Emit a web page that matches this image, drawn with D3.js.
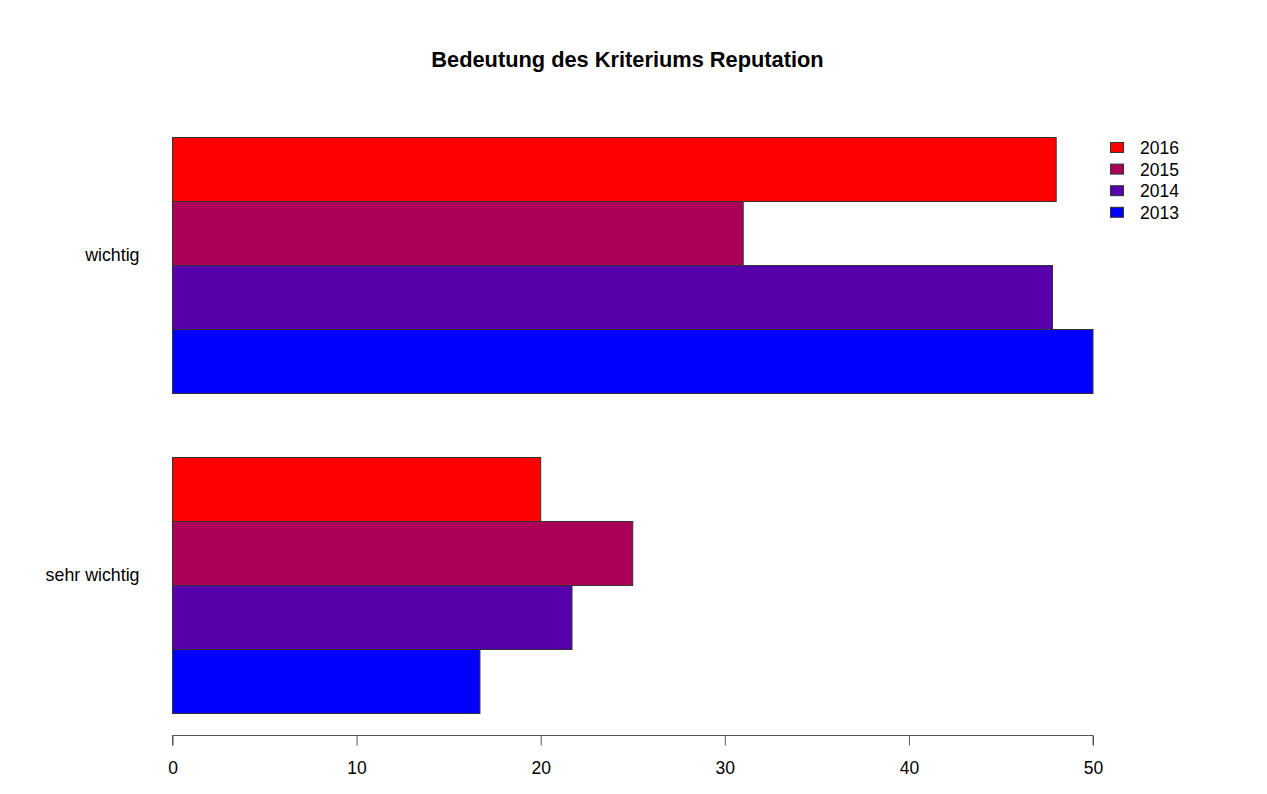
<!DOCTYPE html>
<html>
<head>
<meta charset="utf-8">
<script src="https://cdn.jsdelivr.net/npm/d3@7"></script>
<style>
  html, body { margin: 0; padding: 0; background: #ffffff; }
  svg { display: block; font-family: "Liberation Sans", Arial, Helvetica, sans-serif; }
</style>
</head>
<body>
<svg id="chart" width="1267" height="794"></svg>
<script>
// ---- data ----
const title = "Bedeutung des Kriteriums Reputation";
const categories = ["wichtig", "sehr wichtig"];
const years = ["2016", "2015", "2014", "2013"];
const values2016 = [48, 20];
const values2015 = [31, 25];
const values2014 = [47.8, 21.7];
const values2013 = [50, 16.7];
const yearColors = ["#FF0000", "#AA0055", "#5500AA", "#0000FF"];
const xTicks = [0, 10, 20, 30, 40, 50];

const seriesValues = [values2016, values2015, values2014, values2013];

// ---- layout ----
const svg = d3.select("#chart");
const x = d3.scaleLinear().domain([0, 50]).range([172.5, 1093]);
const yGroup = d3.scaleBand().domain(categories).range([137.5, 713.5]).paddingInner(0.2).paddingOuter(0);
const yBar = d3.scaleBand().domain(years).range([0, yGroup.bandwidth()]).padding(0);
const color = d3.scaleOrdinal().domain(years).range(yearColors);

// title
svg.append("text")
  .attr("x", 627.5).attr("y", 67)
  .attr("text-anchor", "middle")
  .attr("font-size", "21.8px").attr("font-weight", "bold")
  .attr("fill", "#000")
  .text(title);

// bars
const groups = svg.append("g").selectAll("g")
  .data(categories)
  .join("g")
  .attr("transform", d => `translate(0,${yGroup(d)})`);

groups.selectAll("rect")
  .data((c, ci) => years.map((yr, yi) => ({ year: yr, value: seriesValues[yi][ci] })))
  .join("rect")
  .attr("x", x(0))
  .attr("y", d => yBar(d.year))
  .attr("width", d => x(d.value) - x(0))
  .attr("height", yBar.bandwidth())
  .attr("fill", d => color(d.year))
  .attr("stroke", "#333")
  .attr("stroke-width", 1);

// category labels
svg.append("g").selectAll("text")
  .data(categories)
  .join("text")
  .attr("x", 139.5)
  .attr("y", d => yGroup(d) + yGroup.bandwidth() / 2 - 4.5)
  .attr("text-anchor", "end")
  .attr("font-size", "17.8px")
  .attr("fill", "#000")
  .text(d => d);

// x axis
const xAxis = d3.axisBottom(x).tickValues(xTicks).tickSize(10).tickPadding(16).tickFormat(d3.format("d"));
const ax = svg.append("g")
  .attr("transform", "translate(0,735.5)")
  .call(xAxis);
ax.select(".domain").attr("stroke", "#555").attr("d", `M${x(0)},10V0H${x(50)}V10`);
ax.selectAll(".tick line").attr("stroke", "#555");
ax.selectAll(".tick text").attr("font-size", "17.5px").attr("fill", "#000")
  .attr("font-family", "'Liberation Sans', Arial, Helvetica, sans-serif");

// legend
const legend = svg.append("g").selectAll("g")
  .data(years)
  .join("g")
  .attr("transform", (d, i) => `translate(1110,${147.5 + i * 21.6})`);
legend.append("rect")
  .attr("x", 0.5).attr("y", -5)
  .attr("width", 13).attr("height", 10)
  .attr("fill", d => color(d))
  .attr("stroke", "#333").attr("stroke-width", 1);
legend.append("text")
  .attr("x", 30).attr("y", 6.5)
  .attr("font-size", "17.5px")
  .attr("fill", "#000")
  .text(d => d);
</script>
</body>
</html>
